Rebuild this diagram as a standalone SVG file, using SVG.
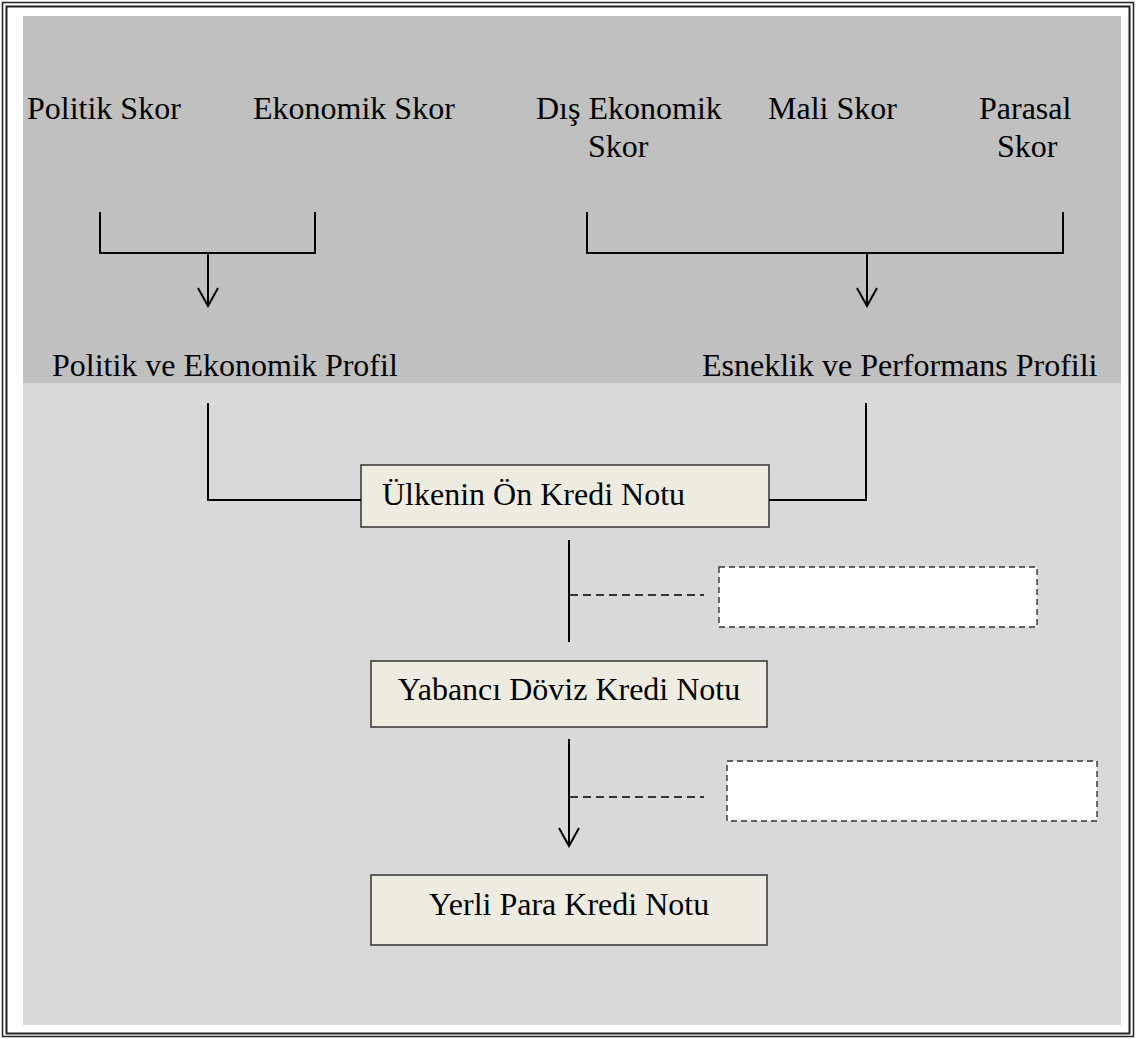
<svg xmlns="http://www.w3.org/2000/svg" width="1136" height="1039" viewBox="0 0 1136 1039">
<defs>
<style>
text{font-family:"Liberation Serif","Times New Roman",serif;font-size:32px;fill:#000}
.ln{fill:none;stroke:#000;stroke-width:2}
.dash{fill:none;stroke:#000;stroke-width:1.6;stroke-dasharray:8,5}
.box{fill:#eeece1;stroke:#333;stroke-width:1.5}
.dbox{fill:#fff;stroke:#333;stroke-width:1.4;stroke-dasharray:6,4}
</style>
<marker id="arr" markerWidth="22" markerHeight="24" refX="20" refY="11" orient="auto" markerUnits="userSpaceOnUse" viewBox="0 0 22 24">
<path d="M2,1 L20,11 L2,21" fill="none" stroke="#000" stroke-width="2"/>
</marker>
</defs>
<rect width="1136" height="1039" fill="#fff"/>
<rect x="2.5" y="2.5" width="1131" height="1034" fill="none" stroke="#222" stroke-width="1.5"/>
<rect x="6.5" y="6.5" width="1123" height="1027" fill="none" stroke="#222" stroke-width="2"/>
<rect x="23" y="16" width="1098" height="367" fill="#c0c0c0"/>
<rect x="23" y="383" width="1098" height="642" fill="#d9d9d9"/>

<g id="scores">
<text x="27" y="119">Politik Skor</text>
<text x="253" y="119">Ekonomik Skor</text>
<text x="536" y="119">Dış Ekonomik</text>
<text x="588" y="157">Skor</text>
<text x="768" y="119">Mali Skor</text>
<text x="979" y="119">Parasal</text>
<text x="997" y="157">Skor</text>
</g>
<g id="profile-pe"><text x="52" y="376">Politik ve Ekonomik Profil</text></g>
<g id="profile-ep"><text x="702" y="376">Esneklik ve Performans Profili</text></g>

<g id="node-on-kredi">
<rect class="box" x="361" y="465" width="408" height="62"/>
<text x="382" y="505">Ülkenin Ön Kredi Notu</text>
</g>
<g id="node-blank1"><rect class="dbox" x="719" y="567" width="318" height="60"/></g>
<g id="node-yabanci">
<rect class="box" x="371" y="661" width="396" height="66"/>
<text x="569" y="700" text-anchor="middle">Yabancı Döviz Kredi Notu</text>
</g>
<g id="node-blank2"><rect class="dbox" x="727" y="761" width="370" height="60"/></g>
<g id="node-yerli">
<rect class="box" x="371" y="875" width="396" height="70"/>
<text x="569" y="915" text-anchor="middle">Yerli Para Kredi Notu</text>
</g>

<g id="connectors">
<path class="ln" d="M100,212 V253 H315 V212"/>
<path class="ln" d="M208,253 V306" marker-end="url(#arr)"/>
<path class="ln" d="M587,212 V253 H1063 V212"/>
<path class="ln" d="M867,253 V306" marker-end="url(#arr)"/>
<path class="ln" d="M208,403 V500 H361"/>
<path class="ln" d="M866,403 V500 H769"/>
<path class="ln" d="M569,540 V642"/>
<path class="dash" d="M570,595 H704"/>
<path class="ln" d="M569,739 V846" marker-end="url(#arr)"/>
<path class="dash" d="M570,797 H704"/>
</g>
</svg>
